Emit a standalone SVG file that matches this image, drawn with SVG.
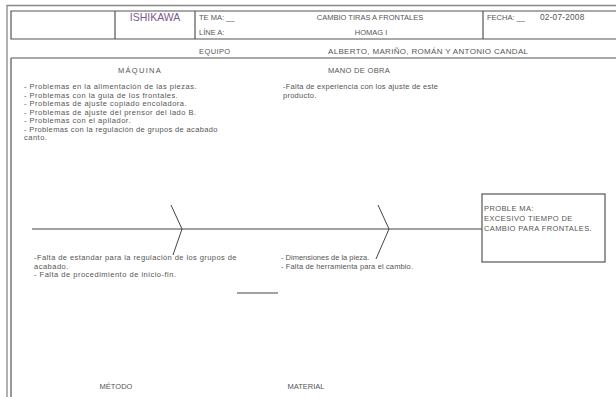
<svg xmlns="http://www.w3.org/2000/svg" width="616" height="397" viewBox="0 0 616 397">
<style>
text{font-family:"Liberation Sans",Arial,sans-serif;fill:#555;font-size:7.5px}
.frame{stroke:#888;stroke-width:1.3;fill:none}
.dark{stroke:#555;stroke-width:1.2;fill:none}
.bone{stroke:#444;stroke-width:1;fill:none}
.ttl{font-size:10.5px;fill:#7a5b8c}
.mid{text-anchor:middle}
.w5{letter-spacing:0.5px}
.w3{letter-spacing:0.25px}
.w4{letter-spacing:0.4px}
</style>
<rect width="616" height="397" fill="#fff"/>
<g id="frame">
<path class="frame" d="M7,397 V5.5 H616"/>
<path class="dark" d="M616,11 H11 V39 H616 M11,58 V397 M11,58 H616"/>
<path class="dark" d="M115,11 V39 M195,11 V39 M483,11 V39"/>
</g>
<g id="header">
<text class="ttl mid" x="155" y="21">ISHIKAWA</text>
<text x="199" y="20">TE MA: __</text>
<text x="199" y="35">LÍNE A:</text>
<text class="mid" x="370" y="20">CAMBIO TIRAS A FRONTALES</text>
<text class="mid" x="371" y="35">HOMAG I</text>
<text x="487" y="20">FECHA: __</text>
<text x="540" y="20" style="font-size:8.3px;letter-spacing:0.2px">02-07-2008</text>
<text x="199" y="54" class="w4">EQUIPO</text>
<text x="328" y="54" style="font-size:8px" textLength="200">ALBERTO, MARIÑO, ROMÁN Y ANTONIO CANDAL</text>
</g>
<g id="connectors">
<path class="bone" d="M32,229 H482"/>
<path class="bone" d="M171,205 L182,229 L173,255"/>
<path class="bone" d="M378,205 L389,229 L376,259"/>
<path class="bone" d="M237,293 H278"/>
</g>
<g id="maquina" class="w5">
<text class="mid" x="140" y="73" style="letter-spacing:1.3px">MÁQUINA</text>
<text x="24" y="89" textLength="173">- Problemas en la alimentación de las piezas.</text>
<text x="24" y="97.5">- Problemas con la guia de los frontales.</text>
<text x="24" y="106">- Problemas de ajuste copiado encoladora.</text>
<text x="24" y="114.5">- Problemas de ajuste del prensor del lado B.</text>
<text x="24" y="123">- Problemas con el apilador.</text>
<text x="24" y="131.5" textLength="194">- Problemas con la regulación de grupos de acabado</text>
<text x="24" y="140">canto.</text>
</g>
<g id="mano-de-obra">
<text class="mid" x="359" y="73" style="letter-spacing:0.3px">MANO DE OBRA</text>
<text x="283" y="89" textLength="155">-Falta de experiencia con los ajuste de este</text>
<text x="283" y="97.5" class="w3">producto.</text>
</g>
<g id="problema" class="w4">
<rect class="dark" x="482" y="194" width="123" height="68" stroke="#444"/>
<text x="484" y="211">PROBLE MA:</text>
<text x="484" y="221">EXCESIVO TIEMPO DE</text>
<text x="484" y="231" textLength="108">CAMBIO PARA FRONTALES.</text>
</g>
<g id="metodo" class="w5">
<text x="34" y="260" textLength="203">-Falta de estandar para la regulación de los grupos de</text>
<text x="34" y="268.5">acabado.</text>
<text x="34" y="277">- Falta de procedimiento de inicio-fin.</text>
<text class="mid" x="116" y="389" style="letter-spacing:0">MÉTODO</text>
</g>
<g id="material">
<text x="281" y="260">- Dimensiones de la pieza.</text>
<text x="281" y="268.5" textLength="132">- Falta de herramienta para el cambio.</text>
<text class="mid" x="306" y="389">MATERIAL</text>
</g>
</svg>
